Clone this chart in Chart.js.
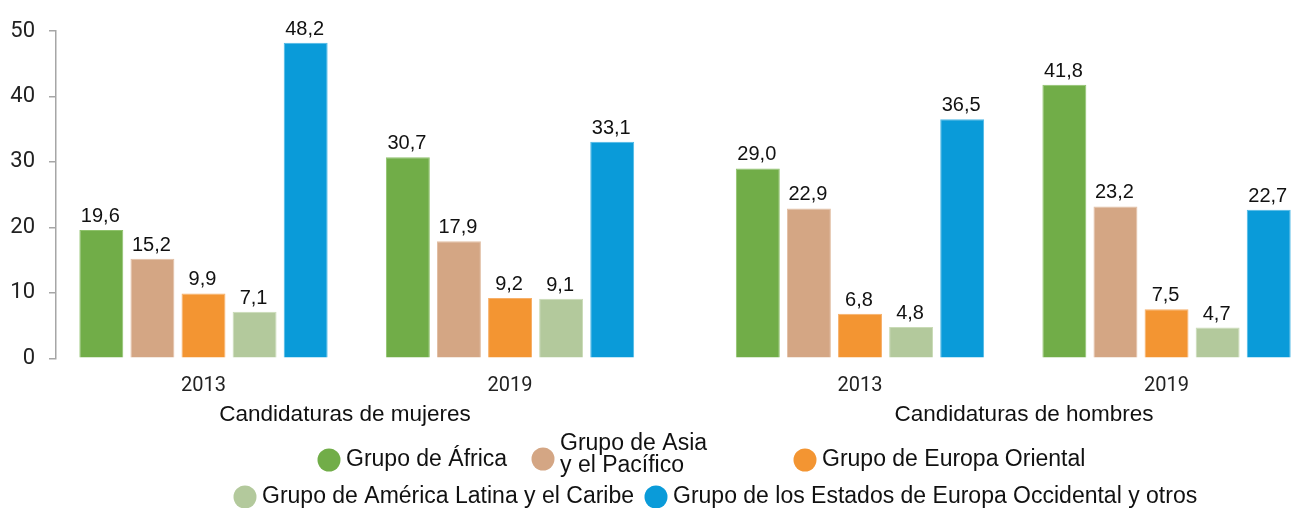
<!DOCTYPE html>
<html>
<head>
<meta charset="utf-8">
<script src="https://cdn.jsdelivr.net/npm/chart.js@4"></script>
<style>
  html, body { margin: 0; padding: 0; background: #fff; }
</style>
</head>
<body>
<canvas id="chart" width="1291" height="508"></canvas>
<script>
// tick labels
const years = ["2013", "2019", "2013", "2019"];
const halves = ["Candidaturas de mujeres", "Candidaturas de hombres"];
const groups = [
  "Grupo de África",
  "Grupo de Asia\ny el Pacífico",
  "Grupo de Europa Oriental",
  "Grupo de América Latina y el Caribe",
  "Grupo de los Estados de Europa Occidental y otros"
];

// values per regional group, in the order of the years above
const africa = [19.6, 30.7, 29.0, 41.8];
const asia = [15.2, 17.9, 22.9, 23.2];
const europaOriental = [9.9, 9.2, 6.8, 7.5];
const americaLatina = [7.1, 9.1, 4.8, 4.7];
const europaOccidental = [48.2, 33.1, 36.5, 22.7];

const series = [africa, asia, europaOriental, americaLatina, europaOccidental];
const colors = ["#71ad48", "#d4a684", "#f39532", "#b3c99c", "#0a9bd9"];
const edges = ["#8fc26c", "#e2bfa4", "#f7b06a", "#c9dbb6", "#4db8e6"];

// bar slots: one unit per bar, a blank slot between years, a wider gap between halves
const YEAR_GAP = 6;
const HALF_GAP = 12.85;
const slotX = (g, d) => Math.floor(g / 2) * HALF_GAP + (g % 2) * YEAR_GAP + d;
const X_MIN = -0.887, X_MAX = 23.286;
// where the two half titles sit on the slot scale
const halfTitleAt = [4.77, 18.06];

const valueLabels = {
  id: "valueLabels",
  afterDatasetsDraw(chart) {
    const ctx = chart.ctx;
    ctx.save();
    ctx.font = '20px "Liberation Sans", Arial, sans-serif';
    ctx.fillStyle = "#111";
    ctx.textAlign = "center";
    ctx.textBaseline = "alphabetic";
    chart.data.datasets.forEach((ds, d) => {
      chart.getDatasetMeta(d).data.forEach((bar, i) => {
        const txt = ds.data[i].y.toFixed(1).replace(".", ",");
        ctx.fillText(txt, bar.x - 1, bar.y - 8);
      });
    });
    ctx.restore();
  }
};

// legend drawn by hand, the reference has an irregular layout
const legendSpots = [
  { x: 329, y: 460 },
  { x: 543, y: 459 },
  { x: 805, y: 460 },
  { x: 245, y: 497 },
  { x: 656, y: 497 }
];

const freeLegend = {
  id: "freeLegend",
  afterDraw(chart) {
    const ctx = chart.ctx;
    ctx.save();
    ctx.font = '23px "Liberation Sans", Arial, sans-serif';
    ctx.textAlign = "left";
    ctx.textBaseline = "middle";
    chart.data.datasets.forEach((ds, d) => {
      const spot = legendSpots[d];
      ctx.fillStyle = ds.backgroundColor;
      ctx.beginPath();
      ctx.arc(spot.x, spot.y, 11.5, 0, Math.PI * 2);
      ctx.fill();
      const lines = ds.label.split("\n");
      ctx.fillStyle = "#111";
      const top = lines.length > 1 ? spot.y - 15 : spot.y;
      lines.forEach((line, k) => ctx.fillText(line, spot.x + 17, top + k * 22));
    });
    ctx.restore();
  }
};

const datasets = series.map((vals, d) => ({
  label: groups[d],
  data: vals.map((v, g) => ({ x: slotX(g, d), y: v })),
  backgroundColor: colors[d],
  borderColor: edges[d],
  borderWidth: 1,
  grouped: false,
  barPercentage: 0.86,
  categoryPercentage: 1
}));

new Chart(document.getElementById("chart"), {
  type: "bar",
  data: { datasets: datasets },
  plugins: [valueLabels, freeLegend],
  options: {
    responsive: false,
    animation: false,
    devicePixelRatio: 1,
    layout: { padding: { top: 31, left: 0, right: 0, bottom: 68.7 } },
    plugins: {
      legend: { display: false },
      tooltip: { enabled: false }
    },
    scales: {
      x: {
        type: "linear",
        position: "bottom",
        weight: 0,
        min: X_MIN,
        max: X_MAX,
        offset: false,
        grid: { display: false, drawTicks: false },
        border: { display: false },
        afterBuildTicks: (s) => { s.ticks = years.map((_, g) => ({ value: slotX(g, 2) })); },
        ticks: {
          autoSkip: false,
          maxRotation: 0,
          padding: 16,
          color: "#222",
          font: { family: "Roboto", size: 20 },
          callback: (v, i) => years[i]
        },
        afterFit: (s) => { s.height = 41; }
      },
      x2: {
        type: "linear",
        position: "bottom",
        weight: 1,
        min: X_MIN,
        max: X_MAX,
        offset: false,
        grid: { display: false, drawTicks: false },
        border: { display: false },
        afterBuildTicks: (s) => { s.ticks = halfTitleAt.map((v) => ({ value: v })); },
        ticks: {
          autoSkip: false,
          maxRotation: 0,
          padding: 2,
          color: "#111",
          font: { family: "'Liberation Sans', Arial, sans-serif", size: 22.5 },
          callback: (v, i) => halves[i]
        },
        afterFit: (s) => { s.height = 40; }
      },
      y: {
        min: 0,
        max: 50,
        ticks: {
          stepSize: 10,
          padding: 14,
          color: "#222",
          font: { family: "Roboto", size: 22 }
        },
        grid: { drawOnChartArea: false, drawTicks: true, tickLength: 7, color: "#a6a6a6", lineWidth: 1.5 },
        border: { display: true, color: "#a6a6a6", width: 1.5 },
        afterFit: (s) => { s.width = 56; }
      }
    }
  }
});
</script>
</body>
</html>
